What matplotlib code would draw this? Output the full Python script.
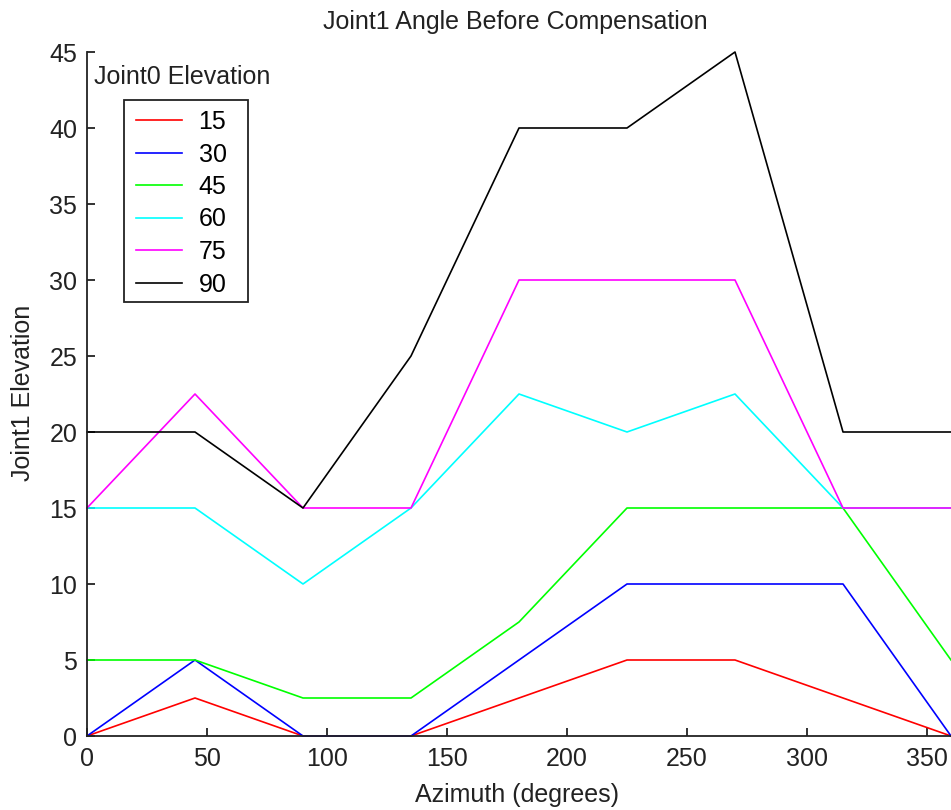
import matplotlib

matplotlib.use("Agg")
import matplotlib.pyplot as plt
from matplotlib.patches import Rectangle

plt.rcParams["font.family"] = ["Liberation Sans", "DejaVu Sans"]

azimuth = [0, 45, 90, 135, 180, 225, 270, 315, 360]
elev_15 = [0, 2.5, 0, 0, 2.5, 5, 5, 2.5, 0]
elev_30 = [0, 5, 0, 0, 5, 10, 10, 10, 0]
elev_45 = [5, 5, 2.5, 2.5, 7.5, 15, 15, 15, 5]
elev_60 = [15, 15, 10, 15, 22.5, 20, 22.5, 15, 15]
elev_75 = [15, 22.5, 15, 15, 30, 30, 30, 15, 15]
elev_90 = [20, 20, 15, 25, 40, 40, 45, 20, 20]
labels = ["15", "30", "45", "60", "75", "90"]
colors = ["#ff0000", "#0000ff", "#00ff00", "#00ffff", "#ff00ff", "#000000"]

INK = "#222222"
FS = 18
W, H = 951, 810

fig = plt.figure(figsize=(W / 100, H / 100), dpi=100)
ax = fig.add_axes([87 / W, 74 / H, 864 / W, 684 / H])

for ys, lab, c in zip([elev_15, elev_30, elev_45, elev_60, elev_75, elev_90], labels, colors):
    ax.plot(azimuth, ys, color=c, lw=1.2, label=lab, clip_on=False)

ax.set_xlim(0, 360)
ax.set_ylim(0, 45)
ax.set_xticks(range(0, 351, 50))
ax.set_yticks(range(0, 46, 5))
ax.spines["top"].set_visible(False)
ax.spines["right"].set_visible(False)
for s in ("left", "bottom"):
    ax.spines[s].set_linewidth(1.3)
    ax.spines[s].set_color(INK)
ax.tick_params(direction="in", length=6, width=1.3, labelsize=FS, colors=INK)
ax.tick_params(axis="x", pad=8)
ax.tick_params(axis="y", pad=7)

fig.text(515 / W, 1 - 22 / H, "Joint1 Angle Before Compensation", fontsize=FS,
         ha="center", va="center", color=INK)
fig.text(517 / W, 1 - 795 / H, "Azimuth (degrees)", fontsize=FS,
         ha="center", va="center", color=INK)
fig.text(23 / W, 1 - 393 / H, "Joint1 Elevation", fontsize=FS, rotation=90,
         ha="center", va="center", color=INK)

# legend: title sits above the box, like the MATLAB original
fig.text(94 / W, 1 - 77 / H, "Joint0 Elevation", fontsize=FS, ha="left", va="center",
         color=INK)
fig.add_artist(Rectangle((124 / W, 1 - 302 / H), 124 / W, 202 / H, transform=fig.transFigure,
                         fill=False, edgecolor=INK, linewidth=1.3))
ax.legend(loc="upper left", bbox_to_anchor=(136 / W, 1 - 110 / H),
          bbox_transform=fig.transFigure, fontsize=FS, frameon=False,
          handlelength=1.85, handletextpad=0.65, labelspacing=0.34, borderpad=0,
          borderaxespad=0)

fig.savefig("out.png", dpi=100, facecolor="white")
